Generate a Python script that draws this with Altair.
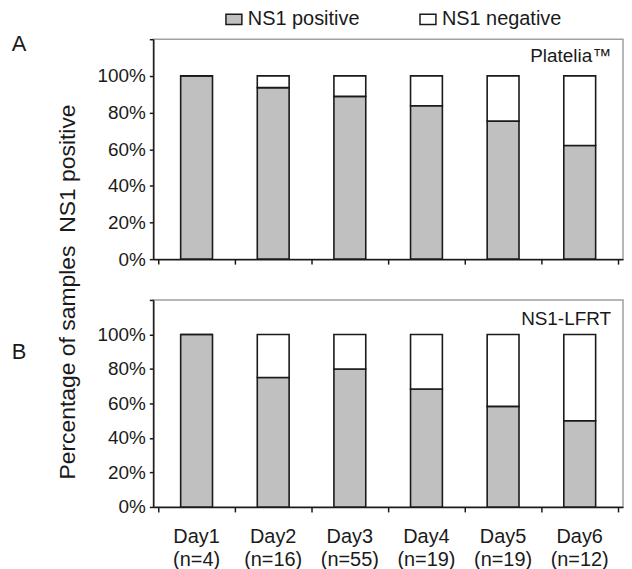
import altair as alt
import pandas as pd

days = ["Day1", "Day2", "Day3", "Day4", "Day5", "Day6"]
n_labels = ["(n=4)", "(n=16)", "(n=55)", "(n=19)", "(n=19)", "(n=12)"]
platelia_pos = [100, 93.6, 88.8, 83.7, 75.3, 62.0]
lfrt_pos = [100, 75.0, 80.0, 68.4, 58.3, 50.0]
status = ["NS1 positive", "NS1 negative"]
fills = ["#c0c0c0", "#ffffff"]
y_ticks = [0, 20, 40, 60, 80, 100, 120]
y_title = "Percentage of samples \u00a0NS1 positive"

FONT = "Liberation Sans"
W = 472


def frame(pos):
    rows = []
    for i, (d, p) in enumerate(zip(days, pos)):
        rows.append(dict(day=d, idx=i + 0.5, status=status[0], lo=0, hi=p))
        rows.append(dict(day=d, idx=i + 0.5, status=status[1], lo=p, hi=100))
    return pd.DataFrame(rows)


legend = alt.Legend(
    orient="none", legendX=71, legendY=-30, direction="horizontal", title=None,
    symbolType="M-1,-0.65H1V0.65H-1Z", symbolSize=256,
    symbolStrokeColor="#1a1a1a", symbolStrokeWidth=1.5,
    labelFontSize=20, labelOffset=4, columnPadding=57, labelColor="#1a1a1a",
)

letter_y = {"A": 5, "B": 52}


def panel(pos, h, ymax, letter, inset, inset_y, extra_layers):
    df = frame(pos)
    x = alt.X("idx:Q", scale=alt.Scale(domain=[0, 6], nice=False, zero=False),
              axis=alt.Axis(values=list(range(7)), labels=False, title=None, grid=False,
                            tickSize=5, domainColor="#1a1a1a", tickColor="#1a1a1a",
                            domainWidth=1.5, tickWidth=1.5))
    y = alt.Y("lo:Q", scale=alt.Scale(domain=[0, ymax], nice=False),
              axis=alt.Axis(values=y_ticks, title=None, grid=False,
                            labelExpr="datum.value == 120 ? '' : datum.value + '%'",
                            tickSize=4, labelFontSize=19, labelPadding=4,
                            labelColor="#1a1a1a", domainColor="#1a1a1a", tickColor="#1a1a1a",
                            domainWidth=1.5, tickWidth=1.5))
    bars = alt.Chart(df).mark_bar(size=32, stroke="#1a1a1a", strokeWidth=1.6).encode(
        x=x, y=y, y2="hi:Q",
        fill=alt.Fill("status:N", scale=alt.Scale(domain=status, range=fills), legend=legend),
    )
    lab = alt.Chart(pd.DataFrame({"t": [letter]})).mark_text(
        fontSize=22, align="center", baseline="middle", color="#1a1a1a"
    ).encode(x=alt.value(-135), y=alt.value(letter_y[letter]), text="t:N")
    ins = alt.Chart(pd.DataFrame({"t": [inset]})).mark_text(
        fontSize=19, align="right", baseline="middle", color="#1a1a1a"
    ).encode(x=alt.value(W - 12), y=alt.value(inset_y), text="t:N")
    return alt.layer(bars, lab, ins, *extra_layers).properties(width=W, height=h)


title_layer = alt.Chart(pd.DataFrame({"t": [y_title]})).mark_text(
    fontSize=23, angle=270, align="center", baseline="middle", color="#1a1a1a"
).encode(x=alt.value(-86), y=alt.value(254), text="t:N")

day_df = pd.DataFrame({"idx": [i + 0.5 for i in range(len(days))],
                       "lab": [d + "\n" + n for d, n in zip(days, n_labels)]})
day_layer = alt.Chart(day_df).mark_text(
    fontSize=20, align="center", baseline="middle", lineBreak="\n", lineHeight=23,
    color="#1a1a1a"
).encode(x="idx:Q", y=alt.value(208 + 30), text="lab:N")

A = panel(platelia_pos, 221, 120, "A", "Platelia\u2122", 17, [title_layer])
B = panel(lfrt_pos, 208, 120, "B", "NS1-LFRT", 19, [day_layer])

chart = alt.vconcat(A, B, spacing=41, bounds="flush").properties(
    padding={"left": 2, "top": 0, "right": 0, "bottom": 0}
).configure(font=FONT).configure_view(
    stroke="#a0a0a0", strokeWidth=1.5
)

chart.save("out.html", embed_options={"renderer": "svg", "actions": False})
